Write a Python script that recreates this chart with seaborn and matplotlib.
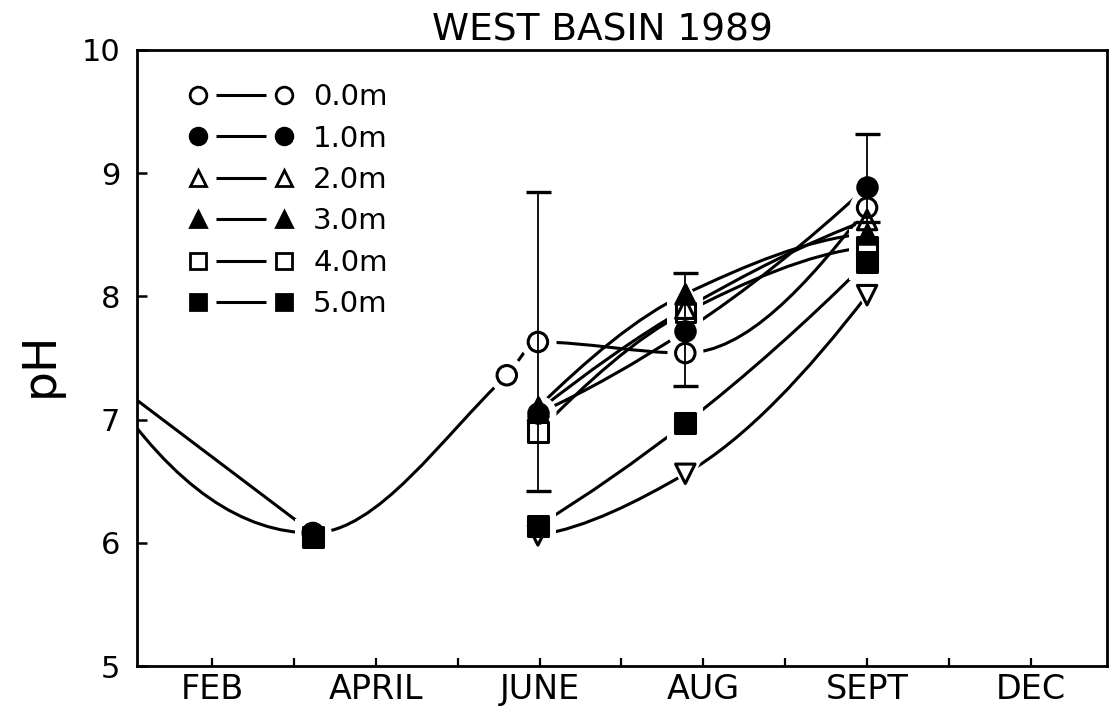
import numpy as np
import pandas as pd
import matplotlib
matplotlib.use("Agg")
import matplotlib.pyplot as plt
from matplotlib.path import Path
from matplotlib.patches import PathPatch
from matplotlib.lines import Line2D
from matplotlib.legend_handler import HandlerBase
import seaborn as sns

# Sampling positions on the month axis (FEB = 1, APRIL = 3, ... DEC = 11);
# the first sample lies just before the left edge of the axis.
sample_x = [-0.3, 2.23, 4.60, 4.98, 6.78, 9.00]

depths = ["0.0m", "1.0m", "2.0m", "3.0m", "4.0m", "5.0m", "bottom"]
ph_0m = [7.28, 6.08, 7.36, 7.63, 7.54, 8.72]
ph_1m = [7.35, 6.08, np.nan, 7.05, 7.72, 8.89]
ph_2m = [np.nan, np.nan, np.nan, 7.07, 7.90, 8.62]
ph_3m = [np.nan, np.nan, np.nan, 7.10, 8.02, 8.51]
ph_4m = [np.nan, np.nan, np.nan, 6.90, 7.87, 8.40]
ph_5m = [np.nan, 6.05, np.nan, 6.14, 6.97, 8.28]
ph_bottom = [np.nan, np.nan, np.nan, 6.06, 6.56, 8.01]

# Range bars (min / max) on three sampling dates
err_x = [4.98, 6.78, 9.00]
err_low = [6.42, 7.27, 8.60]
err_high = [8.85, 8.19, 9.32]

tick_major = [1, 3, 5, 7, 9, 11]
tick_minor = [2, 4, 6, 8, 10]
month_labels = ["FEB", "APRIL", "JUNE", "AUG", "SEPT", "DEC"]
y_ticks = [5, 6, 7, 8, 9, 10]

# marker shape and whether it is filled
marker_style = {
    "0.0m": ("o", False),
    "1.0m": ("o", True),
    "2.0m": ("^", False),
    "3.0m": ("^", True),
    "4.0m": ("s", False),
    "5.0m": ("s", True),
    "bottom": ("v", False),
}

series = [ph_0m, ph_1m, ph_2m, ph_3m, ph_4m, ph_5m, ph_bottom]
df = pd.DataFrame({
    "x": sample_x * len(depths),
    "pH": np.concatenate(series),
    "depth": np.repeat(depths, len(sample_x)),
})

sns.set_style("ticks")
plt.rcParams["font.family"] = ["DejaVu Sans"]
plt.rcParams["text.color"] = "black"
plt.rcParams["axes.labelcolor"] = "black"
plt.rcParams["xtick.color"] = "black"
plt.rcParams["ytick.color"] = "black"
plt.rcParams["axes.edgecolor"] = "black"


def pchip_slopes(x, y):
    """Shape-preserving (Fritsch-Carlson) tangents at each sample."""
    x = np.asarray(x, float)
    y = np.asarray(y, float)
    n = len(x)
    h = np.diff(x)
    d = np.diff(y) / h
    if n == 2:
        return np.array([d[0], d[0]])
    m = np.zeros(n)
    for k in range(1, n - 1):
        if d[k - 1] * d[k] > 0:
            w1 = 2 * h[k] + h[k - 1]
            w2 = h[k] + 2 * h[k - 1]
            m[k] = (w1 + w2) / (w1 / d[k - 1] + w2 / d[k])

    def end(h0, h1, d0, d1):
        mm = ((2 * h0 + h1) * d0 - h0 * d1) / (h0 + h1)
        if np.sign(mm) != np.sign(d0):
            mm = 0.0
        elif np.sign(d0) != np.sign(d1) and abs(mm) > 3 * abs(d0):
            mm = 3 * d0
        return mm

    m[0] = end(h[0], h[1], d[0], d[1])
    m[-1] = end(h[-1], h[-2], d[-1], d[-2])
    return m


def smooth_path(x, y):
    """Cubic Bezier path through the samples."""
    m = pchip_slopes(x, y)
    verts = [(x[0], y[0])]
    codes = [Path.MOVETO]
    for i in range(len(x) - 1):
        dx = x[i + 1] - x[i]
        verts += [(x[i] + dx / 3, y[i] + m[i] * dx / 3),
                  (x[i + 1] - dx / 3, y[i + 1] - m[i + 1] * dx / 3),
                  (x[i + 1], y[i + 1])]
        codes += [Path.CURVE4] * 3
    return Path(verts, codes)


def runs(sub):
    """Split a series into stretches of consecutive samples."""
    out, cur = [], []
    for xv, yv in zip(sub["x"], sub["pH"]):
        if np.isnan(yv):
            if cur:
                out.append(cur)
            cur = []
        else:
            cur.append((xv, yv))
    if cur:
        out.append(cur)
    return out


fig = plt.figure(figsize=(11.14, 7.13), dpi=100)
ax = fig.add_axes([0.1230, 0.0659, 0.8707, 0.8640])

LW = 2.2
MARK_S = 14 ** 2
HALO_S = 26 ** 2

# connecting curves
for dep in depths:
    sub = df[df["depth"] == dep]
    for run in runs(sub):
        if len(run) < 2:
            continue
        xs = [p[0] for p in run]
        ys = [p[1] for p in run]
        ax.add_patch(PathPatch(smooth_path(xs, ys), facecolor="none",
                               edgecolor="black", lw=LW, zorder=2,
                               capstyle="butt"))

# white halos open a small gap between curves and symbols
for dep in depths:
    sub = df[(df["depth"] == dep) & df["pH"].notna()]
    mk, _ = marker_style[dep]
    sns.scatterplot(data=sub, x="x", y="pH", marker=mk, s=HALO_S,
                    color="white", edgecolor="white", linewidth=0,
                    ax=ax, zorder=3, legend=False)

# range bars
err_low_a = np.array(err_low)
err_high_a = np.array(err_high)
err_mid = (err_low_a + err_high_a) / 2
ax.errorbar(err_x, err_mid, yerr=[err_mid - err_low_a, err_high_a - err_mid],
            fmt="none", ecolor="black", elinewidth=1.3, capsize=9,
            capthick=2.4, zorder=4)

# symbols
for dep in depths:
    sub = df[(df["depth"] == dep) & df["pH"].notna()]
    mk, filled = marker_style[dep]
    kw = {} if filled else {"facecolors": "none"}
    sns.scatterplot(data=sub, x="x", y="pH", marker=mk, s=MARK_S,
                    color="black", edgecolor="black", linewidth=LW,
                    ax=ax, zorder=5, legend=False, **kw)


class PairHandler(HandlerBase):
    """Legend key drawn as  symbol — symbol."""

    def create_artists(self, legend, orig_handle, xdescent, ydescent,
                       width, height, fontsize, trans):
        y = (height - ydescent) / 2.0
        x0 = -xdescent
        x1 = x0 + width
        gap = 0.21 * width
        seg = Line2D([x0 + gap, x1 - gap], [y, y], color="black", lw=LW,
                     solid_capstyle="butt")
        pts = Line2D([x0, x1], [y, y], ls="none",
                     marker=orig_handle.get_marker(),
                     ms=orig_handle.get_markersize(),
                     mfc=orig_handle.get_markerfacecolor(),
                     mec="black", mew=orig_handle.get_markeredgewidth())
        seg.set_transform(trans)
        pts.set_transform(trans)
        return [seg, pts]


handles = []
for dep in depths[:6]:
    mk, filled = marker_style[dep]
    ms = 12 if mk == "o" else 11
    handles.append(Line2D([], [], marker=mk, ms=ms,
                          mfc="black" if filled else "white",
                          mec="black", mew=2.0, color="black"))

ax.legend(handles, depths[:6], handler_map={Line2D: PairHandler()},
          loc="upper left", bbox_to_anchor=(0.0629, 0.946), frameon=False,
          fontsize=21, handlelength=2.95, handletextpad=1.0,
          labelspacing=0.46, borderpad=0, borderaxespad=0)

# axes cosmetics
ax.set_xlim(0.084, 11.93)
ax.set_ylim(5, 10)
ax.set_xticks(tick_major)
ax.set_xticklabels(month_labels)
ax.set_xticks(tick_minor, minor=True)
ax.set_yticks(y_ticks)
ax.set_yticklabels([str(v) for v in y_ticks])
ax.tick_params(axis="x", which="both", direction="in", length=6, width=1.6,
               pad=5, labelsize=24, colors="black")
ax.tick_params(axis="y", which="major", direction="in", length=7, width=1.8,
               pad=12, labelsize=22, colors="black")
ax.tick_params(axis="y", which="minor", left=False)
for sp in ax.spines.values():
    sp.set_linewidth(2.0)
    sp.set_visible(True)
    sp.set_color("black")

ax.set_xlabel("")
ax.set_ylabel("pH", fontsize=34, color="black")
ax.yaxis.set_label_coords(-0.077, 0.49)
title = ax.set_title("WEST BASIN 1989", fontsize=27, pad=7, color="black")
title.set_x(0.48)

fig.savefig("out.png", dpi=100, facecolor="white")
